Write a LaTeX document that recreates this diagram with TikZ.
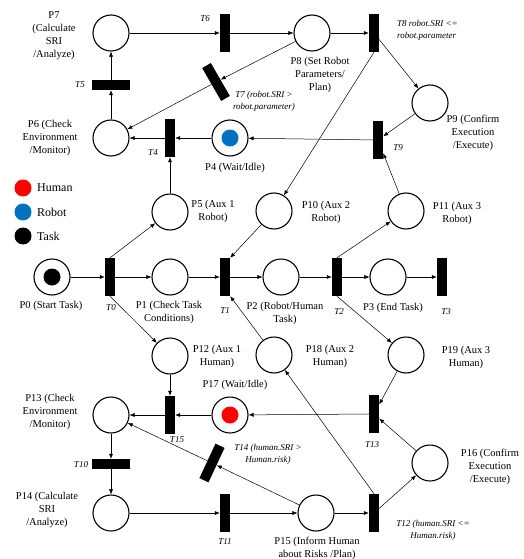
\documentclass[tikz,border=0pt]{standalone}
\usepackage{fontspec}
\setmainfont{Liberation Serif}
\usepackage{tikz}
\usetikzlibrary{arrows.meta}
\definecolor{humanred}{RGB}{255,0,0}
\definecolor{robotblue}{RGB}{0,112,192}

\begin{document}
\begin{tikzpicture}[x=1pt, y=-1pt,
    place/.style={circle, draw, line width=1.1pt, minimum size=36pt, inner sep=0pt},
    trans/.style={rectangle, fill=black, minimum width=10pt, minimum height=38pt, inner sep=0pt},
    htrans/.style={rectangle, fill=black, minimum width=38pt, minimum height=10pt, inner sep=0pt},
    token/.style={circle, fill=#1, minimum size=17pt, inner sep=0pt},
    plabel/.style={align=center, font=\fontsize{10.5}{13}\selectfont, inner sep=0pt},
    tlabel/.style={align=center, font=\fontsize{9}{12}\selectfont\itshape, inner sep=0pt},
    legtext/.style={anchor=west, font=\fontsize{12}{14}\selectfont, inner sep=0pt},
    arc/.style={-{Latex[length=5pt,width=4pt]}, line width=0.5pt}]
    \useasboundingbox (0,0) rectangle (523,559);
    % Places
    \foreach \n/\x/\y in {0/52/277, 1/170/277, 2/281/277, 3/388/277, 4/230/138,
                          5/170/212, 6/111/138, 7/111/33, 8/312/33, 9/430/103,
                          10/274/211, 11/406/211, 12/170/356, 13/111/415, 14/111/513,
                          15/316/513, 16/430/463, 17/230/415, 18/274/355, 19/406/355}
      \node[place] (P\n) at (\x,\y) {};
    % Tokens
    \node[token=black] (K0) at (P0) {};
    \node[token=robotblue] (K4) at (P4) {};
    \node[token=humanred] (K17) at (P17) {};
    % Transitions
    \foreach \n/\x/\y in {0/110/277, 1/225/277, 2/337/277, 3/442/277, 4/170/138,
                          6/225/33, 8/374/33, 9/378/140, 11/225/513, 12/374/513,
                          13/374/414, 15/170/415}
      \node[trans] (T\n) at (\x,\y) {};
    \node[htrans] (T5) at (111,85) {};
    \node[htrans] (T10) at (111,464) {};
    \node[trans, rotate=30] (T7) at (216,82) {};
    \node[trans, rotate=-25] (T14) at (212,463) {};
    % Arcs
    \foreach \a/\b in {P0/T0, T0/P1, T0.north/P5, T0.south/P12, P1/T1,
                       P10/T1.north east, P18/T1.south east, T1/P2, P2/T2, T2/P3,
                       P3/T3, T2.north/P11, T2.south/P19, P5/T4, P4/T4, T4/P6,
                       P6/T5, T5/P7, P7/T6, T6/P8, P8/T8, P8/T7, T7/P6, T8/P9,
                       T8.south/P10, P9/T9, P11/T9, T9/P4, P12/T15, P17/T15,
                       T15/P13, P13/T10, T10/P14, P14/T11, T11/P15, P15/T12,
                       P15/T14, T14/P13, T12/P16, T12.north/P18, P16/T13,
                       P19/T13, T13/P17}
      \draw[arc] (\a) -- (\b);
    % Place labels
    \node[plabel] (L0) at (51,306) {P0 (Start Task)};
    \node[plabel] (L1) at (169,312) {P1 (Check Task\\Conditions)};
    \node[plabel] (L2) at (285,313) {P2 (Robot/Human\\Task)};
    \node[plabel] (L3) at (393,308) {P3 (End Task)};
    \node[plabel] (L4) at (235,168) {P4 (Wait/Idle)};
    \node[plabel] (L5) at (213,211) {P5 (Aux 1\\Robot)};
    \node[plabel] (L6) at (50,138) {P6 (Check\\Environment\\/Monitor)};
    \node[plabel] (L7) at (54,36) {P7\\(Calculate\\SRI\\/Analyze)};
    \node[plabel] (L8) at (320,75) {P8 (Set Robot\\Parameters/\\Plan)};
    \node[plabel] (L9) at (473,133) {P9 (Confirm\\Execution\\/Execute)};
    \node[plabel] (L10) at (326,212) {P10 (Aux 2\\Robot)};
    \node[plabel] (L11) at (457,213) {P11 (Aux 3\\Robot)};
    \node[plabel] (L12) at (217,356) {P12 (Aux 1\\Human)};
    \node[plabel] (L13) at (50,412) {P13 (Check\\Environment\\/Monitor)};
    \node[plabel] (L14) at (47,510) {P14 (Calculate\\SRI\\/Analyze)};
    \node[plabel] (L15) at (317,548) {P15 (Inform Human\\about Risks /Plan)};
    \node[plabel] (L16) at (490,467) {P16 (Confirm\\Execution\\/Execute)};
    \node[plabel] (L17) at (235,385) {P17 (Wait/Idle)};
    \node[plabel] (L18) at (330,356) {P18 (Aux 2\\Human)};
    \node[plabel] (L19) at (466,357) {P19 (Aux 3\\Human)};
    % Transition labels
    \node[tlabel] (M0) at (111,308) {T0};
    \node[tlabel] (M1) at (225,311) {T1};
    \node[tlabel] (M2) at (339,312) {T2};
    \node[tlabel] (M3) at (446,312) {T3};
    \node[tlabel] (M4) at (153,153) {T4};
    \node[tlabel] (M5) at (80,85) {T5};
    \node[tlabel] (M6) at (205,19) {T6};
    \node[tlabel] (M7) at (264,101) {T7 (robot.SRI >\\robot.parameter)};
    \node[tlabel, align=left, anchor=west] (M8) at (397,30) {T8 robot.SRI <=\\robot.parameter};
    \node[tlabel] (M9) at (398,148) {T9};
    \node[tlabel] (M10) at (81,465) {T10};
    \node[tlabel] (M11) at (225,542) {T11};
    \node[tlabel] (M12) at (433,530) {T12 (human.SRI <=\\Human.risk)};
    \node[tlabel] (M13) at (372,445) {T13};
    \node[tlabel] (M14) at (268,454) {T14 (human.SRI >\\Human.risk)};
    \node[tlabel] (M15) at (177,440) {T15};
    % Legend
    \node[token=humanred] (Gh) at (23,188) {};
    \node[token=robotblue] (Gr) at (23,212) {};
    \node[token=black] (Gt) at (23,236) {};
    \node[legtext] (Ah) at (37,188) {Human};
    \node[legtext] (Ar) at (37,212) {Robot};
    \node[legtext] (At) at (37,236) {Task};
\end{tikzpicture}
\end{document}
